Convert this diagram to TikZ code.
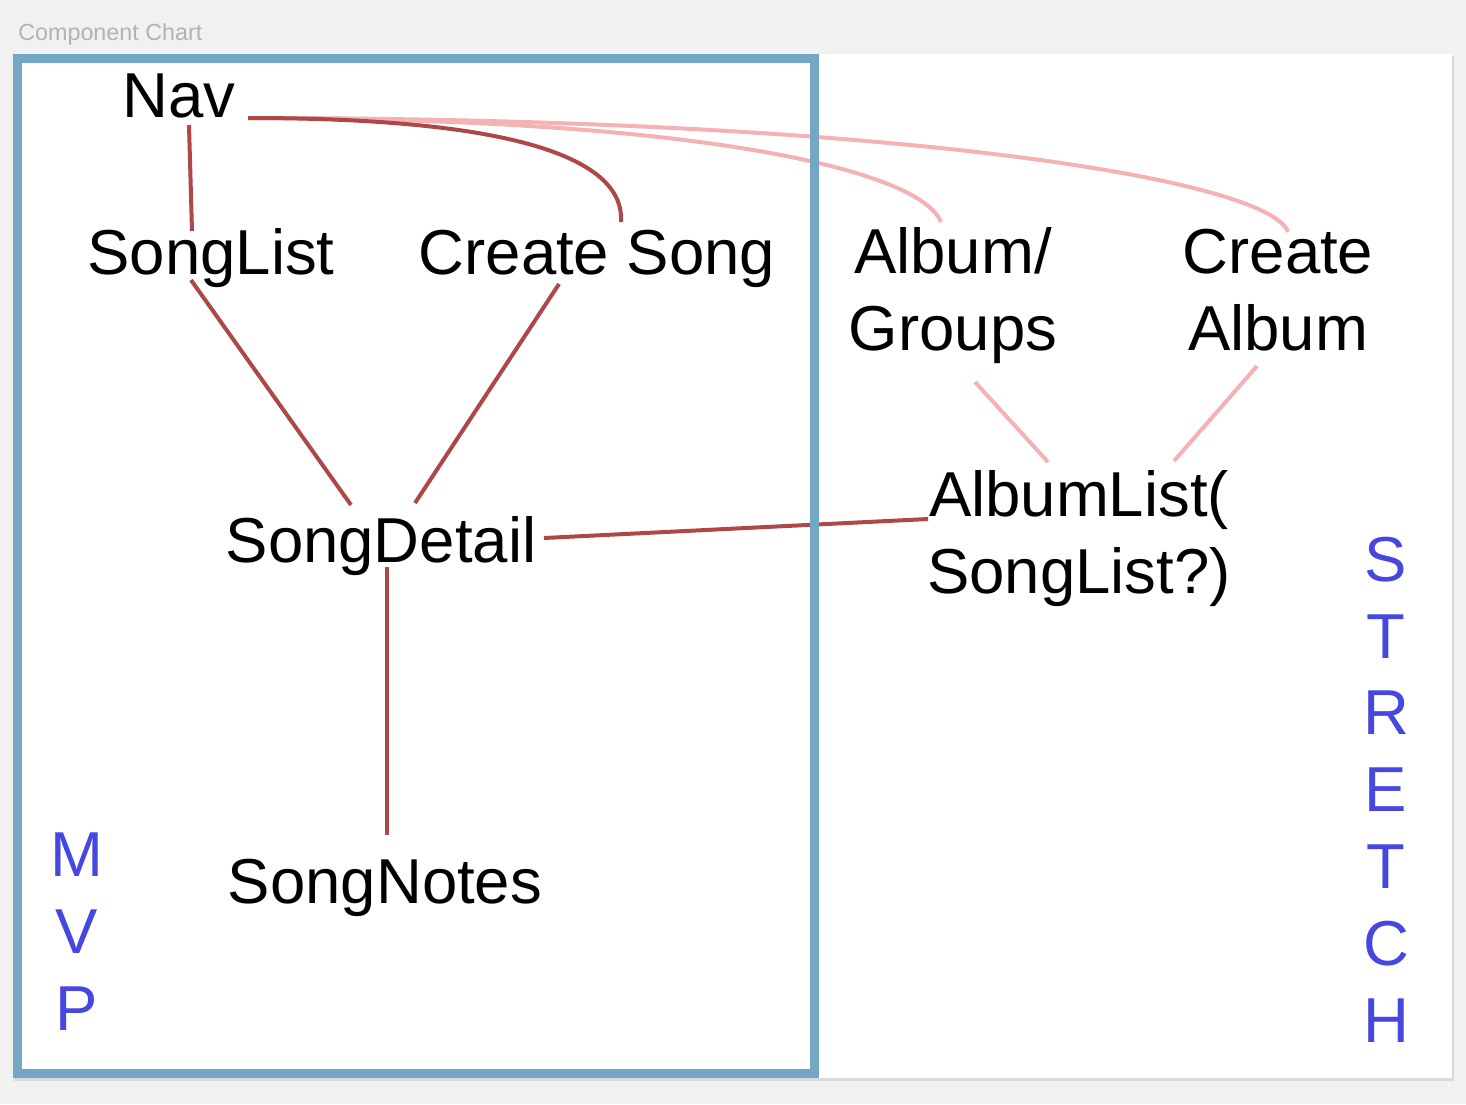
\documentclass[tikz,border=0pt]{standalone}
\usepackage{fontspec}
\setmainfont{Liberation Sans}
\definecolor{bggrey}{HTML}{F1F1F1}
\definecolor{titlegrey}{HTML}{B2B2B2}
\definecolor{framblue}{HTML}{72A8C6}
\definecolor{linkred}{HTML}{AE4848}
\definecolor{linkpink}{HTML}{F5B2B4}
\definecolor{tagblue}{HTML}{4646E0}
\definecolor{shadowgrey}{HTML}{DADADA}
\begin{document}
\begin{tikzpicture}[x=0.5pt,y=-0.5pt,
  lbl/.style={font=\fontsize{31.75}{38.4}\selectfont, inner sep=0pt, anchor=base, align=center},
  tag/.style={lbl, text=tagblue},
  link/.style={draw=linkred, line width=2pt},
  soft/.style={draw=linkpink, line width=2pt},
  frame/.style={draw=framblue, line width=4.5pt}]
% background and canvas
\fill[bggrey] (0,0) rectangle (1466,1104);
\useasboundingbox (0,0) rectangle (1466,1104);
\fill[shadowgrey] (14,56) rectangle (1454,1081);
\fill[white] (13,54) rectangle (1452,1078);
\node[anchor=base west, inner sep=0pt, font=\fontsize{11.65}{14}\selectfont, text=titlegrey] (title) at (18,40) {Component Chart};
% nodes (multi-line nodes: base = last line's baseline)
\node[lbl] (nav) at (179,117) {Nav};
\node[lbl] (songlist) at (211,274) {SongList};
\node[lbl] (createsong) at (597,274) {Create Song};
\node[lbl] (album) at (953,350) {Album/\\Groups};
\node[lbl] (createalbum) at (1278,350) {Create\\Album};
\node[lbl] (albumlist) at (1079,593) {AlbumList(\\SongList?)};
\node[lbl] (songdetail) at (381,562) {SongDetail};
\node[lbl] (songnotes) at (385,903) {SongNotes};
\node[tag] (mvp) at (77,1030) {M\\V\\P};
\node[tag] (stretch) at (1386,1042) {S\\T\\R\\E\\T\\C\\H};
% pink connectors
\draw[soft] ([shift={(69,1)}]nav.base) .. controls ([shift={(521,1)}]nav.base) and ([shift={(-33,-180)}]album.base) .. ([shift={(-12,-128)}]album.base);
\draw[soft] ([shift={(69,1)}]nav.base) .. controls ([shift={(721,1)}]nav.base) and ([shift={(-8,-170)}]createalbum.base) .. ([shift={(10,-118)}]createalbum.base);
\draw[soft] ([shift={(22,32)}]album.base) -- ([shift={(-31,-131)}]albumlist.base);
\draw[soft] ([shift={(-21,16)}]createalbum.base) -- ([shift={(95,-132)}]albumlist.base);
% red connectors
\draw[link] ([shift={(10,8)}]nav.base) -- ([shift={(-19,-43)}]songlist.base);
\draw[link] ([shift={(69,1)}]nav.base) .. controls ([shift={(341,1)}]nav.base) and ([shift={(28,-114)}]createsong.base) .. ([shift={(24,-52)}]createsong.base);
\draw[link] ([shift={(-20,6)}]songlist.base) -- ([shift={(-30,-57)}]songdetail.base);
\draw[link] ([shift={(-38,10)}]createsong.base) -- ([shift={(34,-59)}]songdetail.base);
\draw[link] ([shift={(6,5)}]songdetail.base) -- ([shift={(2,-68)}]songnotes.base);
\draw[link] ([shift={(163,-24)}]songdetail.base) -- ([shift={(-151,-74)}]albumlist.base);
% MVP frame
\draw[frame] (17,58.5) rectangle (814.5,1073.5);
\end{tikzpicture}
\end{document}
